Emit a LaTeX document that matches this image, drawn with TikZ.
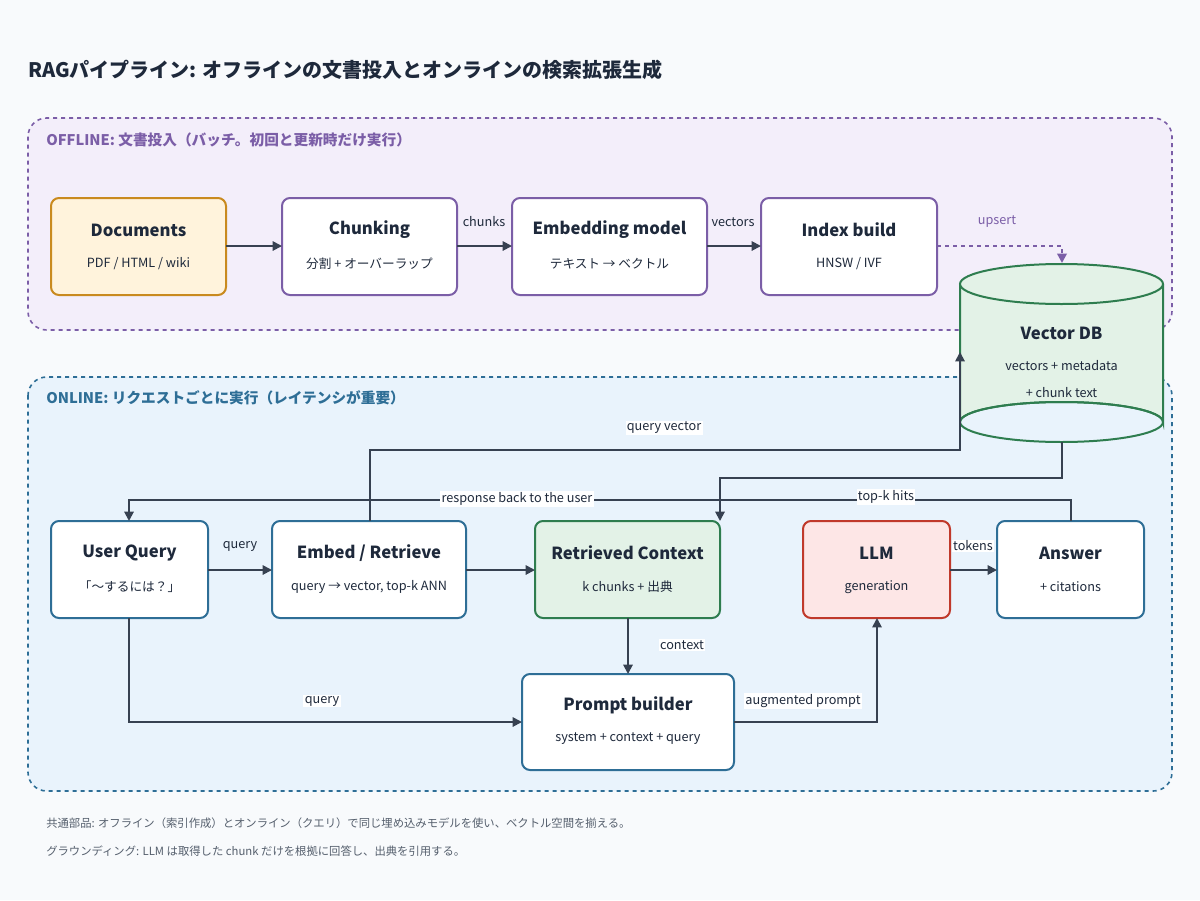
\documentclass[tikz,border=0pt]{standalone}
\usepackage{fontspec}
\setmainfont{Noto Sans CJK JP}
\usetikzlibrary{arrows.meta,shapes.geometric}
\definecolor{bg}{HTML}{F8FAFC}
\definecolor{ink}{HTML}{1E293B}
\definecolor{edge}{HTML}{374151}
\definecolor{purp}{HTML}{7B5EA7}
\definecolor{purpfill}{HTML}{F3EEFA}
\definecolor{blu}{HTML}{2E6E96}
\definecolor{blufill}{HTML}{E9F3FC}
\definecolor{grn}{HTML}{2E7D4F}
\definecolor{grnfill}{HTML}{E3F2E7}
\definecolor{org}{HTML}{C98A1E}
\definecolor{orgfill}{HTML}{FFF3DC}
\definecolor{red}{HTML}{C0392B}
\definecolor{redfill}{HTML}{FDE6E6}
\definecolor{gry}{HTML}{555F6D}
\begin{document}
\begin{tikzpicture}[x=0.75pt,y=-0.75pt,
  box/.style={draw, line width=1.5pt, rounded corners=6pt, fill=white, align=center},
  arr/.style={draw=edge, line width=1.4pt, -{Triangle[length=7pt,width=7pt]}},
  lbl/.style={fill=white, inner sep=1pt, font=\fontsize{9.5}{11}\selectfont, text=ink},
  ttl/.style={font=\bfseries\fontsize{12.5}{14}\selectfont, text=ink},
  sub/.style={font=\fontsize{9.5}{11}\selectfont, text=ink}]
\fill[bg] (0,0) rectangle (1200,900);
\useasboundingbox (0,0) rectangle (1200,900);
\node[anchor=west, inner sep=0pt, font=\bfseries\fontsize{15}{18}\selectfont, text=ink] (title) at (28,70) {RAGパイプライン: オフラインの文書投入とオンラインの検索拡張生成};
% groups
\draw[purp, dashed, line width=1.2pt, fill=purpfill, rounded corners=14pt] (28,118) rectangle (1172,330);
\node[anchor=west, inner sep=0pt, font=\bfseries\fontsize{11}{13}\selectfont, text=purp] (offl) at (46,140) {OFFLINE: 文書投入（バッチ。初回と更新時だけ実行）};
\draw[blu, dashed, line width=1.2pt, fill=blufill, rounded corners=14pt] (28,377) rectangle (1172,791);
\node[anchor=west, inner sep=0pt, font=\bfseries\fontsize{11}{13}\selectfont, text=blu] (onl) at (46,398) {ONLINE: リクエストごとに実行（レイテンシが重要）};
% offline nodes
\draw[box, draw=org, fill=orgfill] (51,198) rectangle (226,295);
\node[ttl] (docs) at (138.5,230) {Documents};
\node[sub] at (138.5,264) {PDF / HTML / wiki};
\coordinate (docsE) at (226,246);
\draw[box, draw=purp] (282,198) rectangle (457,295);
\node[ttl] at (369.5,230) {Chunking};
\node[sub] at (369.5,264) {分割 + オーバーラップ};
\coordinate (chW) at (282,246); \coordinate (chE) at (457,246);
\draw[box, draw=purp] (512,198) rectangle (707,295);
\node[ttl] at (609.5,230) {Embedding model};
\node[sub] at (609.5,264) {テキスト → ベクトル};
\coordinate (emW) at (512,246); \coordinate (emE) at (707,246);
\draw[box, draw=purp] (761,198) rectangle (937,295);
\node[ttl] at (849,230) {Index build};
\node[sub] at (849,264) {HNSW / IVF};
\coordinate (ixW) at (761,246); \coordinate (ixE) at (937,246);
% vector DB
\draw[grn, line width=1.5pt, fill=grnfill] (960,284) -- (960,422) arc[start angle=180,end angle=360,x radius=101.5,y radius=20] -- (1163,284);
\draw[grn, line width=1.5pt, fill=grnfill] (1061.5,284) ellipse[x radius=101.5, y radius=20];
\draw[grn, line width=1.5pt] (960,422) arc[start angle=180,end angle=0,x radius=101.5,y radius=20];
\draw[grn, line width=1.5pt] (960,422) arc[start angle=180,end angle=360,x radius=101.5,y radius=20];
\node[ttl] (db) at (1061.5,333) {Vector DB};
\node[sub] at (1061.5,366) {vectors + metadata};
\node[sub] at (1061.5,393) {+ chunk text};
\coordinate (dbTop) at (1062,263); \coordinate (dbL) at (960,352); \coordinate (dbBot) at (1062,442);
% online nodes
\draw[box, draw=blu] (51,521) rectangle (208,618);
\node[ttl] at (129.5,553) {User Query};
\node[sub] at (129.5,587) {「〜するには？」};
\coordinate (uqE) at (208,570); \coordinate (uqT) at (129,521); \coordinate (uqB) at (129,618);
\draw[box, draw=blu] (272,521) rectangle (466,618);
\node[ttl] at (369,553) {Embed / Retrieve};
\node[sub] at (369,587) {query → vector, top-k ANN};
\coordinate (erW) at (272,570); \coordinate (erE) at (466,570); \coordinate (erT) at (370,521);
\draw[box, draw=grn, fill=grnfill] (535,521) rectangle (720,618);
\node[ttl] at (627.5,553) {Retrieved Context};
\node[sub] at (627.5,587) {k chunks + 出典};
\coordinate (rcW) at (535,570); \coordinate (rcT) at (720,521); \coordinate (rcB) at (628,618);
\draw[box, draw=red, fill=redfill] (803,521) rectangle (950,618);
\node[ttl] at (876.5,553) {LLM};
\node[sub] at (876.5,587) {generation};
\coordinate (llE) at (950,570); \coordinate (llB) at (877,618);
\draw[box, draw=blu] (997,521) rectangle (1144,618);
\node[ttl] at (1070.5,553) {Answer};
\node[sub] at (1070.5,587) {+ citations};
\coordinate (anW) at (997,570); \coordinate (anT) at (1071,521);
\draw[box, draw=blu] (522,674) rectangle (734,770);
\node[ttl] at (628,705) {Prompt builder};
\node[sub] at (628,739) {system + context + query};
\coordinate (pbW) at (522,722); \coordinate (pbE) at (734,722); \coordinate (pbT) at (628,674);
% edges offline
\draw[arr] (docsE) -- (chW);
\draw[arr] (chE) -- (emW);
\node[lbl, fill=none] at (484,222) {chunks};
\draw[arr] (emE) -- (ixW);
\node[lbl, fill=none] at (733,222) {vectors};
\draw[arr, draw=purp, dashed, line width=1.8pt] (ixE) -- (1062,246) -- (dbTop);
\node[lbl, text=purp, fill=none] at (997,222) {upsert};
% edges online
\draw[arr] (erT) |- (960,450) -- (dbL);
\node[lbl] at (664,428) {query vector};
\draw[arr] (dbBot) |- (720,478) -- (rcT);
\draw[arr] (anT) |- (129,500) -- (uqT);
\node[lbl] at (517,499) {response back to the user};
\node[lbl] at (886,497) {top-k hits};
\draw[arr] (uqE) -- (erW);
\node[lbl, fill=none] at (240,546) {query};
\draw[arr] (erE) -- (rcW);
\draw[arr] (rcB) -- (pbT);
\node[lbl] at (682,645) {context};
\draw[arr] (uqB) |- (pbW);
\node[lbl] at (322,701) {query};
\draw[arr] (pbE) -| (llB);
\node[lbl] at (803,701) {augmented prompt};
\draw[arr] (llE) -- (anW);
\node[lbl] at (973,546) {tokens};
% notes
\node[anchor=west, inner sep=0pt, font=\fontsize{8.5}{10}\selectfont, text=gry] (n1) at (46,823) {共通部品: オフライン（索引作成）とオンライン（クエリ）で同じ埋め込みモデルを使い、ベクトル空間を揃える。};
\node[anchor=west, inner sep=0pt, font=\fontsize{8.5}{10}\selectfont, text=gry] (n2) at (46,851) {グラウンディング: LLM は取得した chunk だけを根拠に回答し、出典を引用する。};
\end{tikzpicture}
\end{document}
